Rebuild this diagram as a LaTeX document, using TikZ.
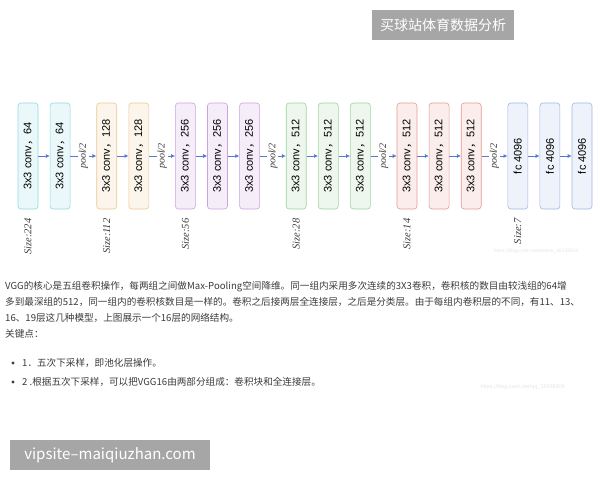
\documentclass[tikz,border=0pt]{standalone}
\usepackage{fontspec}
\setmainfont{Liberation Serif}
\setsansfont{Liberation Sans}
\newfontfamily\cjk{Noto Sans CJK SC}
\usepackage{xcolor}
\usepackage{tikz}
\usetikzlibrary{arrows.meta,positioning}
\definecolor{cCyan}{HTML}{8FD6E6}
\definecolor{cOrange}{HTML}{EEC78E}
\definecolor{cPurple}{HTML}{C9A3E0}
\definecolor{cGreen}{HTML}{9DD49C}
\definecolor{cRed}{HTML}{E59A92}
\definecolor{cBlue}{HTML}{A3B6E6}
\definecolor{cArrow}{HTML}{5677D2}
\definecolor{cText}{HTML}{3A3A3A}
\definecolor{cMark}{HTML}{A6A6A6}
\tikzset{
  blk/.style  ={draw, rounded corners=3pt, align=center, font=\sffamily\fontsize{11}{11}\selectfont,
                minimum width=20pt, minimum height=106pt, inner sep=0pt, line width=0.6pt},
  g1/.style   ={blk, fill=cCyan!18, draw=cCyan},
  g2/.style   ={blk, fill=cOrange!18, draw=cOrange},
  g3/.style   ={blk, fill=cPurple!18, draw=cPurple},
  g4/.style   ={blk, fill=cGreen!18, draw=cGreen},
  g5/.style   ={blk, fill=cRed!18, draw=cRed},
  g6/.style   ={blk, fill=cBlue!18, draw=cBlue},
  arrow/.style={-{Latex[length=4pt,width=4pt]}, line width=0.7pt, draw=cArrow},
  poollbl/.style={fill=white, inner sep=1pt, font=\itshape\fontsize{10}{10}\selectfont, text=cText},
  sizelbl/.style={inner sep=0pt, font=\itshape\fontsize{10.5}{10.5}\selectfont, text=cText},
  markbox/.style={fill=cMark, text=white, inner sep=0pt},
}
\newcommand{\convtxt}[1]{\rotatebox{90}{3x3 conv{\cjk ，}#1}}
\newcommand{\fctxt}{\rotatebox{90}{fc 4096}}

\begin{document}
\begin{tikzpicture}[x=1pt,y=-1pt]
        \useasboundingbox (0,0) rectangle (600,480);
        % conv / fc blocks
        \node[g1] (b1) at (28,156) {\convtxt{64}};
        \node[g1, right=11.5pt of b1] (b2) {\convtxt{64}};
        \node[g2, right=26pt of b2] (b3) {\convtxt{128}};
        \node[g2, right=11.5pt of b3] (b4) {\convtxt{128}};
        \node[g3, right=26pt of b4] (b5) {\convtxt{256}};
        \node[g3, right=11.5pt of b5] (b6) {\convtxt{256}};
        \node[g3, right=11.5pt of b6] (b7) {\convtxt{256}};
        \node[g4, right=26pt of b7] (b8) {\convtxt{512}};
        \node[g4, right=11.5pt of b8] (b9) {\convtxt{512}};
        \node[g4, right=11.5pt of b9] (b10) {\convtxt{512}};
        \node[g5, right=26pt of b10] (b11) {\convtxt{512}};
        \node[g5, right=11.5pt of b11] (b12) {\convtxt{512}};
        \node[g5, right=11.5pt of b12] (b13) {\convtxt{512}};
        \node[g6, right=26pt of b13] (b14) {\fctxt};
        \node[g6, right=11.5pt of b14] (b15) {\fctxt};
        \node[g6, right=11.5pt of b15] (b16) {\fctxt};
        % arrows
        \draw[arrow] (b1) -- (b2);
        \draw[arrow] (b2) -- node[poollbl]{\rotatebox{90}{pool/2}} (b3);
        \draw[arrow] (b3) -- (b4);
        \draw[arrow] (b4) -- node[poollbl]{\rotatebox{90}{pool/2}} (b5);
        \draw[arrow] (b5) -- (b6);
        \draw[arrow] (b6) -- (b7);
        \draw[arrow] (b7) -- node[poollbl]{\rotatebox{90}{pool/2}} (b8);
        \draw[arrow] (b8) -- (b9);
        \draw[arrow] (b9) -- (b10);
        \draw[arrow] (b10) -- node[poollbl]{\rotatebox{90}{pool/2}} (b11);
        \draw[arrow] (b11) -- (b12);
        \draw[arrow] (b12) -- (b13);
        \draw[arrow] (b13) -- node[poollbl]{\rotatebox{90}{pool/2}} (b14);
        \draw[arrow] (b14) -- (b15);
        \draw[arrow] (b15) -- (b16);
        % sizes
        \node[sizelbl, below=9pt of b1] (s1) {\rotatebox{90}{Size:224}};
        \node[sizelbl, below=9pt of b3] (s2) {\rotatebox{90}{Size:112}};
        \node[sizelbl, below=9pt of b5] (s3) {\rotatebox{90}{Size:56}};
        \node[sizelbl, below=9pt of b8] (s4) {\rotatebox{90}{Size:28}};
        \node[sizelbl, below=9pt of b11] (s5) {\rotatebox{90}{Size:14}};
        \node[sizelbl, below=9pt of b14] (s6) {\rotatebox{90}{Size:7}};
        \node[font=\sffamily\fontsize{5}{5}\selectfont, text=black!10, anchor=west] (url1) at (490,251) {https://blog.csdn.net/weixin\_45138604};
        % text below
        \node[anchor=north west, inner sep=0pt, align=left, text=cText,
              font=\cjk\fontsize{9.6}{16}\selectfont] (para) at (5,281)
          {VGG的核心是五组卷积操作，每两组之间做Max-Pooling空间降维。同一组内采用多次连续的3X3卷积，卷积核的数目由较浅组的64增\\
           多到最深组的512，同一组内的卷积核数目是一样的。卷积之后接两层全连接层，之后是分类层。由于每组内卷积层的不同，有11、13、\\
           16、19层这几种模型，上图展示一个16层的网络结构。\\
           关键点：};
        \fill[cText] (13,363) circle (1.6pt);
        \fill[cText] (13,382) circle (1.6pt);
        \node[anchor=west, inner sep=0pt, text=cText, font=\cjk\fontsize{9.6}{10}\selectfont] (bul1) at (22,363) {1．五次下采样，即池化层操作。};
        \node[anchor=west, inner sep=0pt, text=cText, font=\cjk\fontsize{9.6}{10}\selectfont] (bul2) at (22,382) {2 .根据五次下采样，可以把VGG16由两部分组成：卷积块和全连接层。};
        \node[font=\sffamily\fontsize{5.5}{5.5}\selectfont, text=black!10, anchor=west] (url2) at (477,387) {https://blog.csdn.net/qq\_35438804};
        % watermarks
        \node[markbox, minimum width=142pt, minimum height=30pt, font=\cjk\fontsize{14}{14}\selectfont] (mark1) at (443,25) {买球站体育数据分析};
        \node[markbox, minimum width=200pt, minimum height=30pt, font=\cjk\fontsize{15}{15}\selectfont] (mark2) at (110,455) {vipsite–maiqiuzhan.com};
      \end{tikzpicture}
\end{document}
